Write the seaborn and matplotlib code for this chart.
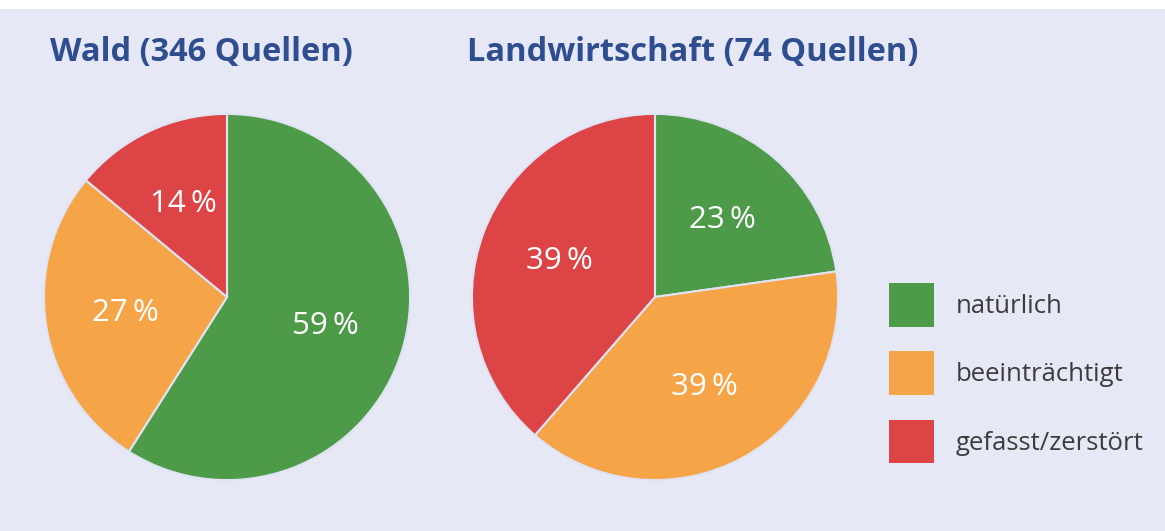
import seaborn as sns
import matplotlib.pyplot as plt
from matplotlib.patches import Patch, Rectangle

# Daten
kategorien = ['natürlich', 'beeinträchtigt', 'gefasst/zerstört']
wald_werte = [59, 27, 14]
landwirtschaft_werte = [23, 39, 39]
titel = ['Wald (346 Quellen)', 'Landwirtschaft (74 Quellen)']

sns.set_theme(style='white')
plt.rcParams['font.family'] = ['Open Sans', 'DejaVu Sans']

farben = ['#4d9b48', '#f5a447', '#dc4446']
hintergrund = '#e6e8f6'
titel_farbe = '#2f4e8f'

W, H = 1165, 531
fig = plt.figure(figsize=(W / 100, H / 100), dpi=100, facecolor='white')
fig.patches.append(Rectangle((0, 0), 1, 1 - 9 / H, transform=fig.transFigure,
                             facecolor=hintergrund, edgecolor='none', zorder=-1))

r = 184
mitten = [(227, 297), (655, 297)]
titel_x = [50, 467]

for (cx, cy), werte, t, tx in zip(mitten, [wald_werte, landwirtschaft_werte], titel, titel_x):
    ax = fig.add_axes([(cx - r) / W, (H - cy - r) / H, 2 * r / W, 2 * r / H])
    ax.set_facecolor('none')
    wedges, texts = ax.pie(werte, colors=farben, startangle=90, counterclock=False,
                           labels=[f'{v}\u2009%' for v in werte], labeldistance=0.56,
                           wedgeprops=dict(edgecolor='#dfe3f3', linewidth=1.5),
                           textprops=dict(color='white', fontsize=22.5, ha='center', va='center'))
    ax.set_xlim(-1.005, 1.005)
    ax.set_ylim(-1.005, 1.005)
    ax.set_aspect('equal')
    fig.text(tx / W, 1 - 52 / H, t, color=titel_farbe, fontsize=23.5, fontweight='bold',
             ha='left', va='center')

handles = [Patch(facecolor=c, edgecolor='none') for c in farben]
fig.legend(handles, kategorien, loc='upper left', bbox_to_anchor=(889 / W, 1 - 283 / H),
           frameon=False, fontsize=18.5, handlelength=1.75, handleheight=2.25,
           handletextpad=0.85, labelspacing=0.95, borderpad=0, borderaxespad=0,
           labelcolor='#3c3c3c')

fig.savefig('out.png', dpi=100, facecolor=fig.get_facecolor())
